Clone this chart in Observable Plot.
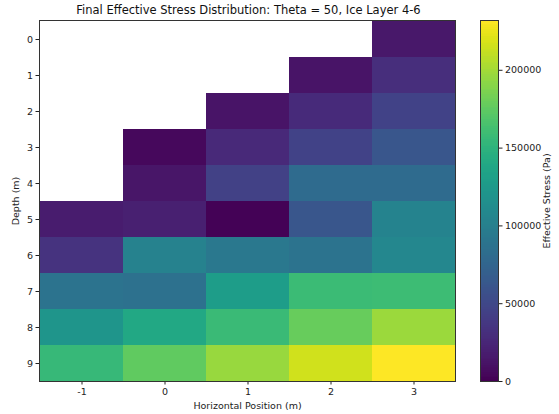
<!DOCTYPE html>
<html><head><meta charset="utf-8">
<script src="https://cdn.jsdelivr.net/npm/d3@7"></script>
<script src="https://cdn.jsdelivr.net/npm/@observablehq/plot@0.6"></script>
<style>
body{margin:0;background:#fff;font-family:"DejaVu Sans",sans-serif;}
#wrap{position:relative;width:559px;height:414px;}
#wrap>*{position:absolute;}
#title{left:0;width:497px;top:3px;text-align:center;font-size:11.5px;color:#111;white-space:nowrap;}
</style></head>
<body><div id="wrap"><div id="title">Final Effective Stress Distribution: Theta = 50, Ice Layer 4-6</div></div>
<script>
const xPositions = [-1, 0, 1, 2, 3];
const depths = [0, 1, 2, 3, 4, 5, 6, 7, 8, 9];
// effective stress (Pa) per depth 0..9, one array per horizontal position; null = no soil
const stressXm1 = [null, null, null, null, null, 18000, 34000, 88000, 121000, 155000];
const stressX0  = [null, null, null, 5000, 13000, 20000, 103000, 86000, 139000, 175000];
const stressX1  = [null, null, 12000, 27000, 45000, 1000, 93000, 128000, 157000, 196000];
const stressX2  = [null, 12000, 28000, 46000, 80000, 62000, 88000, 158000, 178000, 215000];
const stressX3  = [15000, 30000, 46000, 62000, 80000, 104000, 107000, 159000, 197000, 232000];
const colorTicks = [0, 50000, 100000, 150000, 200000];
const colorMax = 232000;

const cols = [stressXm1, stressX0, stressX1, stressX2, stressX3];
const cells = [];
xPositions.forEach((x, i) => depths.forEach((d, j) => {
  if (cols[i][j] != null) cells.push({x, depth: d, stress: cols[i][j]});
}));

const font = "DejaVu Sans, sans-serif";
const main = Plot.plot({
  width: 559, height: 414,
  marginLeft: 39, marginRight: 104, marginTop: 20, marginBottom: 33,
  style: {fontFamily: font, fontSize: "9.5px", color: "#222", background: "transparent"},
  x: {type: "band", domain: xPositions, padding: 0, label: "Horizontal Position (m)", labelAnchor: "center", labelOffset: 27, labelArrow: "none", tickSize: 3.5, tickPadding: 3},
  y: {type: "band", domain: depths, padding: 0, label: "Depth (m)", labelAnchor: "center", labelOffset: 27, labelArrow: "none", tickSize: 3.5, tickPadding: 3},
  color: {type: "linear", scheme: "viridis", domain: [0, colorMax]},
  marks: [
    Plot.cell(cells, {x: "x", y: "depth", fill: "stress", inset: 0, shapeRendering: "crispEdges"}),
    Plot.frame({stroke: "#333", strokeWidth: 1})
  ]
});
main.style.left = "0px"; main.style.top = "0px";
document.getElementById("wrap").appendChild(main);

const step = colorMax / 200;
const bins = d3.range(0, colorMax, step);
const bar = Plot.plot({
  width: 99, height: 414,
  marginLeft: 20, marginRight: 61, marginTop: 20, marginBottom: 33,
  style: {fontFamily: font, fontSize: "9.5px", color: "#222", background: "transparent"},
  x: {domain: [0, 1], axis: null},
  y: {domain: [0, colorMax], axis: null},
  color: {type: "linear", scheme: "viridis", domain: [0, colorMax]},
  marks: [
    Plot.rect(bins, {x1: 0, x2: 1, y1: d => d, y2: d => Math.min(colorMax, d + step * 1.5), fill: d => d + step / 2, shapeRendering: "crispEdges"}),
    Plot.axisY({anchor: "right", ticks: colorTicks, tickFormat: d => String(d), label: "Effective Stress (Pa)", labelAnchor: "center", labelOffset: 51, labelArrow: "none", tickSize: 3.5, tickPadding: 3}),
    Plot.frame({stroke: "#333", strokeWidth: 1})
  ]
});
bar.style.left = "460px"; bar.style.top = "0px";
document.getElementById("wrap").appendChild(bar);
</script></body></html>
